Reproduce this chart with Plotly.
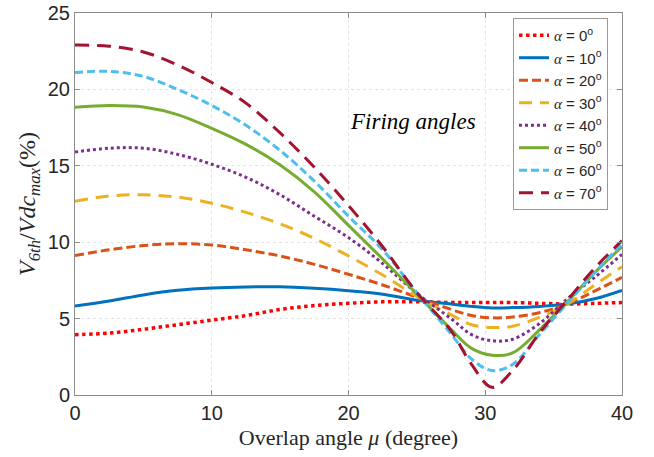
import plotly.graph_objects as go

# Overlap angle mu (degree)
mu = [0, 2.5, 5, 7.5, 10, 12.5, 15, 17.5, 20, 22.5, 25, 27.5, 29, 30.5, 32, 34, 36, 38, 40]

# V6th / Vdc_max (%) for each firing angle alpha
a0 = [3.95, 4.05, 4.3, 4.6, 4.9, 5.2, 5.6, 5.85, 6.0, 6.1, 6.1, 6.05, 6.05, 6.05, 6.05, 6.0, 5.95, 6.0, 6.05]
a10 = [5.83, 6.15, 6.55, 6.85, 7.0, 7.07, 7.08, 6.98, 6.82, 6.6, 6.2, 5.95, 5.8, 5.7, 5.72, 5.8, 5.95, 6.3, 6.85]
a20 = [9.13, 9.5, 9.78, 9.9, 9.82, 9.5, 9.1, 8.55, 7.9, 7.2, 6.4, 5.6, 5.2, 5.05, 5.1, 5.4, 5.95, 6.8, 7.7]
a30 = [12.67, 13.02, 13.1, 12.95, 12.55, 11.95, 11.2, 10.25, 9.1, 7.85, 6.45, 5.25, 4.6, 4.42, 4.5, 5.1, 5.95, 7.2, 8.4]
a40 = [15.9, 16.15, 16.15, 15.75, 15.1, 14.25, 13.1, 11.7, 10.3, 8.6, 6.65, 5.0, 3.95, 3.55, 3.65, 4.7, 6.3, 7.7, 9.2]
a50 = [18.83, 18.95, 18.85, 18.35, 17.45, 16.4, 15.05, 13.3, 11.1, 8.9, 6.6, 4.3, 3.05, 2.6, 2.75, 4.3, 6.1, 8.0, 9.7]
a60 = [21.1, 21.18, 20.85, 20.0, 18.95, 17.65, 16.0, 14.0, 11.7, 9.5, 6.7, 4.0, 2.35, 1.6, 2.0, 4.0, 6.0, 8.0, 9.9]
a70 = [22.9, 22.83, 22.45, 21.6, 20.45, 19.1, 17.15, 14.9, 12.4, 9.7, 6.7, 4.2, 2.0, 0.5, 1.6, 4.1, 6.2, 8.3, 10.1]

series = [a0, a10, a20, a30, a40, a50, a60, a70]
alphas = ["0", "10", "20", "30", "40", "50", "60", "70"]
colors = ["#FF0000", "#0072BD", "#D95319", "#EDB120", "#7E2F8E", "#77AC30", "#4DBEEE", "#A2142F"]
dashes = ["dot", "solid", "9px,4px", "13px,8px", "3px,3px", "solid", "8px,4px", "14px,8px"]
widths = [3.5, 3, 3, 3, 3, 3, 3, 3]

fig = go.Figure()
for y, a, c, d, w in zip(series, alphas, colors, dashes, widths):
    name = ("<span style='font-family:Liberation Serif'><i>α</i></span> = "
            + a + "<sup>o</sup>")
    fig.add_trace(go.Scatter(x=mu, y=y, name=name, mode="lines",
                             line=dict(color=c, dash=d, width=w, shape="spline", smoothing=1.0)))

axis_common = dict(showline=True, linecolor="#8c8c8c", linewidth=1, mirror="ticks",
                   ticks="inside", ticklen=5, tickcolor="#8c8c8c", automargin=False,
                   showgrid=True, gridcolor="#e3e3e3", griddash="dot", gridwidth=1,
                   zeroline=False, tickfont=dict(family="Liberation Sans, Arial", size=20, color="#262626"))

fig.update_xaxes(range=[0, 40], dtick=10, **axis_common,
                 title=dict(text="Overlap angle <i>μ</i> (degree)", standoff=6,
                            font=dict(family="Liberation Serif, Times New Roman", size=22, color="#262626")))
fig.update_yaxes(range=[0, 25], dtick=5, **axis_common,
                 title=dict(text="<i>V</i><sub><i>6th</i></sub>/<i>Vdc</i><sub><i>max</i></sub>(%)", standoff=5,
                            font=dict(family="Liberation Serif, Times New Roman", size=24, color="#262626")))

fig.add_annotation(x=24.7, y=17.9, xref="x", yref="y", text="<i>Firing angles</i>", showarrow=False,
                   font=dict(family="Liberation Serif, Times New Roman", size=23, color="#000000"))

fig.update_layout(
    width=654, height=457,
    margin=dict(l=75, r=32, t=13, b=62),
    plot_bgcolor="white", paper_bgcolor="white",
    legend=dict(x=0.8007, y=0.987, xanchor="left", yanchor="top",
                bgcolor="white", bordercolor="#999999", borderwidth=1,
                font=dict(family="Liberation Sans, Arial", size=15, color="#262626"),
                tracegroupgap=0),
)

fig.write_html("out.html")
